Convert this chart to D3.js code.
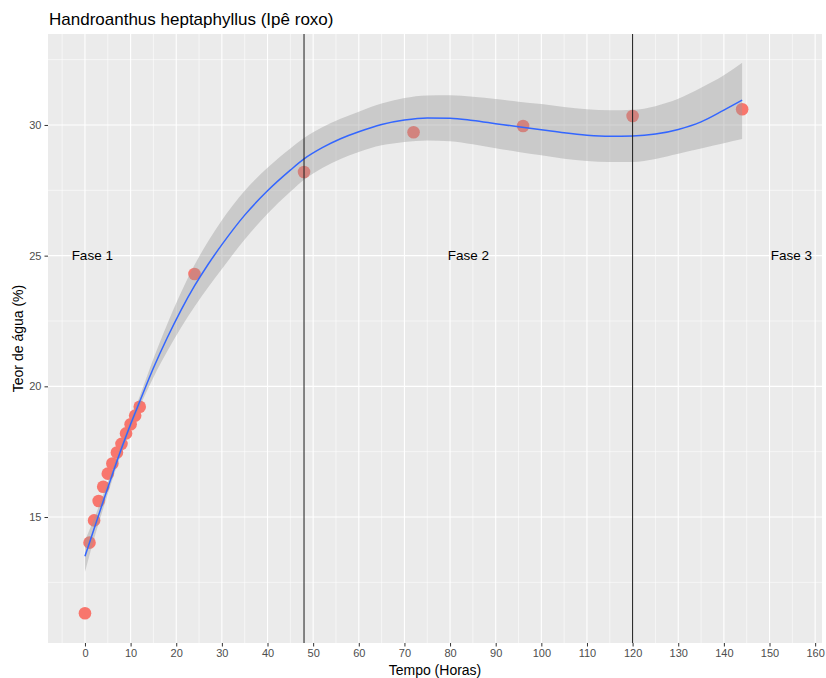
<!DOCTYPE html>
<html>
<head>
<meta charset="utf-8">
<script src="https://cdn.jsdelivr.net/npm/d3@7"></script>
<style>
  html, body { margin: 0; padding: 0; background: #ffffff; }
  svg { display: block; font-family: "Liberation Sans", Arial, sans-serif; }
</style>
</head>
<body>
<svg id="chart" width="826" height="678"></svg>
<script>
// Observed water content (%) over drying time (hours)
const tempo = [0, 1, 2, 3, 4, 5, 6, 7, 8, 9, 10, 11, 12, 24, 48, 72, 96, 120, 144];
const teor  = [11.32, 14.02, 14.87, 15.61, 16.16, 16.66, 17.05, 17.47, 17.8, 18.2, 18.55, 18.88, 19.22,
               24.3, 28.2, 29.72, 29.96, 30.34, 30.6];

// Smoothed trend with its confidence band
const smoothX  = [0, 2, 4, 6, 8, 10, 12, 15, 18, 21, 24, 27, 30, 35, 40, 45, 48, 52, 56, 60, 65, 70, 75,
                  80, 85, 90, 95, 100, 105, 110, 115, 120, 125, 130, 135, 140, 144];
const smoothY  = [13.5, 14.55, 15.6, 16.63, 17.62, 18.55, 19.42, 20.7, 21.85, 22.9, 23.84, 24.67, 25.42,
                  26.55, 27.48, 28.27, 28.7, 29.13, 29.47, 29.74, 30.02, 30.19, 30.27, 30.26, 30.17, 30.05,
                  29.93, 29.82, 29.7, 29.61, 29.57, 29.58, 29.65, 29.83, 30.12, 30.57, 30.95];
const bandHi   = [14.1, 14.93, 15.87, 16.83, 17.79, 18.71, 19.62, 21.06, 22.37, 23.57, 24.64, 25.55, 26.35,
                  27.48, 28.36, 29.1, 29.5, 29.91, 30.24, 30.51, 30.82, 31.03, 31.13, 31.14, 31.08, 30.99,
                  30.89, 30.8, 30.69, 30.6, 30.56, 30.58, 30.72, 31.0, 31.42, 31.9, 32.38];
const bandLo   = [12.9, 14.17, 15.33, 16.43, 17.45, 18.39, 19.22, 20.34, 21.33, 22.23, 23.04, 23.79, 24.49,
                  25.62, 26.6, 27.44, 27.9, 28.35, 28.7, 28.97, 29.22, 29.35, 29.41, 29.38, 29.26, 29.11,
                  28.97, 28.84, 28.71, 28.62, 28.58, 28.58, 28.7, 28.9, 29.1, 29.3, 29.46];

// Phase boundaries and phase labels
const phaseBreaks = [48, 120];
const phaseLabels = ["Fase 1", "Fase 2", "Fase 3"];
const phaseLabelX = [1.6, 84, 154.8];
const phaseLabelY = 25;

// Tick values
const xTicks = d3.range(0, 161, 10);
const xMinor = d3.range(-5, 161, 10);
const yTicks = [15, 20, 25, 30];
const yMinor = [12.5, 17.5, 22.5, 27.5, 32.5];

const title = "Handroanthus heptaphyllus (Ipê roxo)";
const xTitle = "Tempo (Horas)";
const yTitle = "Teor de água (%)";

const svg = d3.select("#chart");
const panel = { left: 48, right: 822, top: 34, bottom: 643 };

const x = d3.scaleLinear().domain([-8.1, 161.5]).range([panel.left, panel.right]);
const y = d3.scaleLinear().domain([10.18, 33.48]).range([panel.bottom, panel.top]);

// Panel background
svg.append("rect")
  .attr("x", panel.left).attr("y", panel.top)
  .attr("width", panel.right - panel.left).attr("height", panel.bottom - panel.top)
  .attr("fill", "#EBEBEB");

svg.append("clipPath").attr("id", "clip")
  .append("rect")
  .attr("x", panel.left).attr("y", panel.top)
  .attr("width", panel.right - panel.left).attr("height", panel.bottom - panel.top);

const grid = svg.append("g").attr("clip-path", "url(#clip)");
grid.selectAll(".xminor").data(xMinor).join("line")
  .attr("x1", d => x(d)).attr("x2", d => x(d))
  .attr("y1", panel.top).attr("y2", panel.bottom)
  .attr("stroke", "#ffffff").attr("stroke-width", 0.55);
grid.selectAll(".yminor").data(yMinor).join("line")
  .attr("y1", d => y(d)).attr("y2", d => y(d))
  .attr("x1", panel.left).attr("x2", panel.right)
  .attr("stroke", "#ffffff").attr("stroke-width", 0.55);
grid.selectAll(".xmajor").data(xTicks).join("line")
  .attr("x1", d => x(d)).attr("x2", d => x(d))
  .attr("y1", panel.top).attr("y2", panel.bottom)
  .attr("stroke", "#ffffff").attr("stroke-width", 1.1);
grid.selectAll(".ymajor").data(yTicks).join("line")
  .attr("y1", d => y(d)).attr("y2", d => y(d))
  .attr("x1", panel.left).attr("x2", panel.right)
  .attr("stroke", "#ffffff").attr("stroke-width", 1.1);

const plot = svg.append("g").attr("clip-path", "url(#clip)");

// Observations
plot.selectAll("circle").data(tempo).join("circle")
  .attr("cx", d => x(d))
  .attr("cy", (d, i) => y(teor[i]))
  .attr("r", 6.3)
  .attr("fill", "#F8766D");

// Confidence band and smoothed line
const smoothIdx = d3.range(smoothX.length);
const area = d3.area()
  .x(i => x(smoothX[i]))
  .y0(i => y(bandLo[i]))
  .y1(i => y(bandHi[i]))
  .curve(d3.curveMonotoneX);
plot.append("path").datum(smoothIdx)
  .attr("d", area)
  .attr("fill", "#999999").attr("fill-opacity", 0.4);

const line = d3.line()
  .x(i => x(smoothX[i]))
  .y(i => y(smoothY[i]))
  .curve(d3.curveMonotoneX);
plot.append("path").datum(smoothIdx)
  .attr("d", line)
  .attr("fill", "none").attr("stroke", "#3366FF").attr("stroke-width", 1.5);

// Phase boundaries
plot.selectAll(".vline").data(phaseBreaks).join("line")
  .attr("x1", d => x(d)).attr("x2", d => x(d))
  .attr("y1", panel.top).attr("y2", panel.bottom)
  .attr("stroke", "#1a1a1a").attr("stroke-width", 1);

// Phase labels
plot.selectAll(".phase").data(phaseLabels).join("text")
  .attr("x", (d, i) => x(phaseLabelX[i]))
  .attr("y", y(phaseLabelY))
  .attr("dy", "0.35em")
  .attr("text-anchor", "middle")
  .attr("font-size", 13.5)
  .attr("fill", "#000000")
  .text(d => d);

// Axes
const xAxis = svg.append("g")
  .attr("transform", `translate(0,${panel.bottom})`)
  .call(d3.axisBottom(x).tickValues(xTicks).tickSize(3.5).tickPadding(3));
const yAxis = svg.append("g")
  .attr("transform", `translate(${panel.left},0)`)
  .call(d3.axisLeft(y).tickValues(yTicks).tickSize(3.5).tickPadding(3));
[xAxis, yAxis].forEach(a => {
  a.select(".domain").remove();
  a.selectAll(".tick line").attr("stroke", "#333333").attr("stroke-width", 1);
  a.selectAll(".tick text")
    .attr("fill", "#4D4D4D")
    .attr("font-size", 11)
    .attr("font-family", "\"Liberation Sans\", Arial, sans-serif");
});

// Titles
svg.append("text")
  .attr("x", panel.left + 1).attr("y", 25)
  .attr("font-size", 17).attr("fill", "#000000")
  .text(title);

svg.append("text")
  .attr("x", (panel.left + panel.right) / 2).attr("y", 675)
  .attr("text-anchor", "middle")
  .attr("font-size", 14).attr("fill", "#000000")
  .text(xTitle);

svg.append("text")
  .attr("transform", `translate(23,${(panel.top + panel.bottom) / 2}) rotate(-90)`)
  .attr("text-anchor", "middle")
  .attr("font-size", 14).attr("fill", "#000000")
  .text(yTitle);
</script>
</body>
</html>
